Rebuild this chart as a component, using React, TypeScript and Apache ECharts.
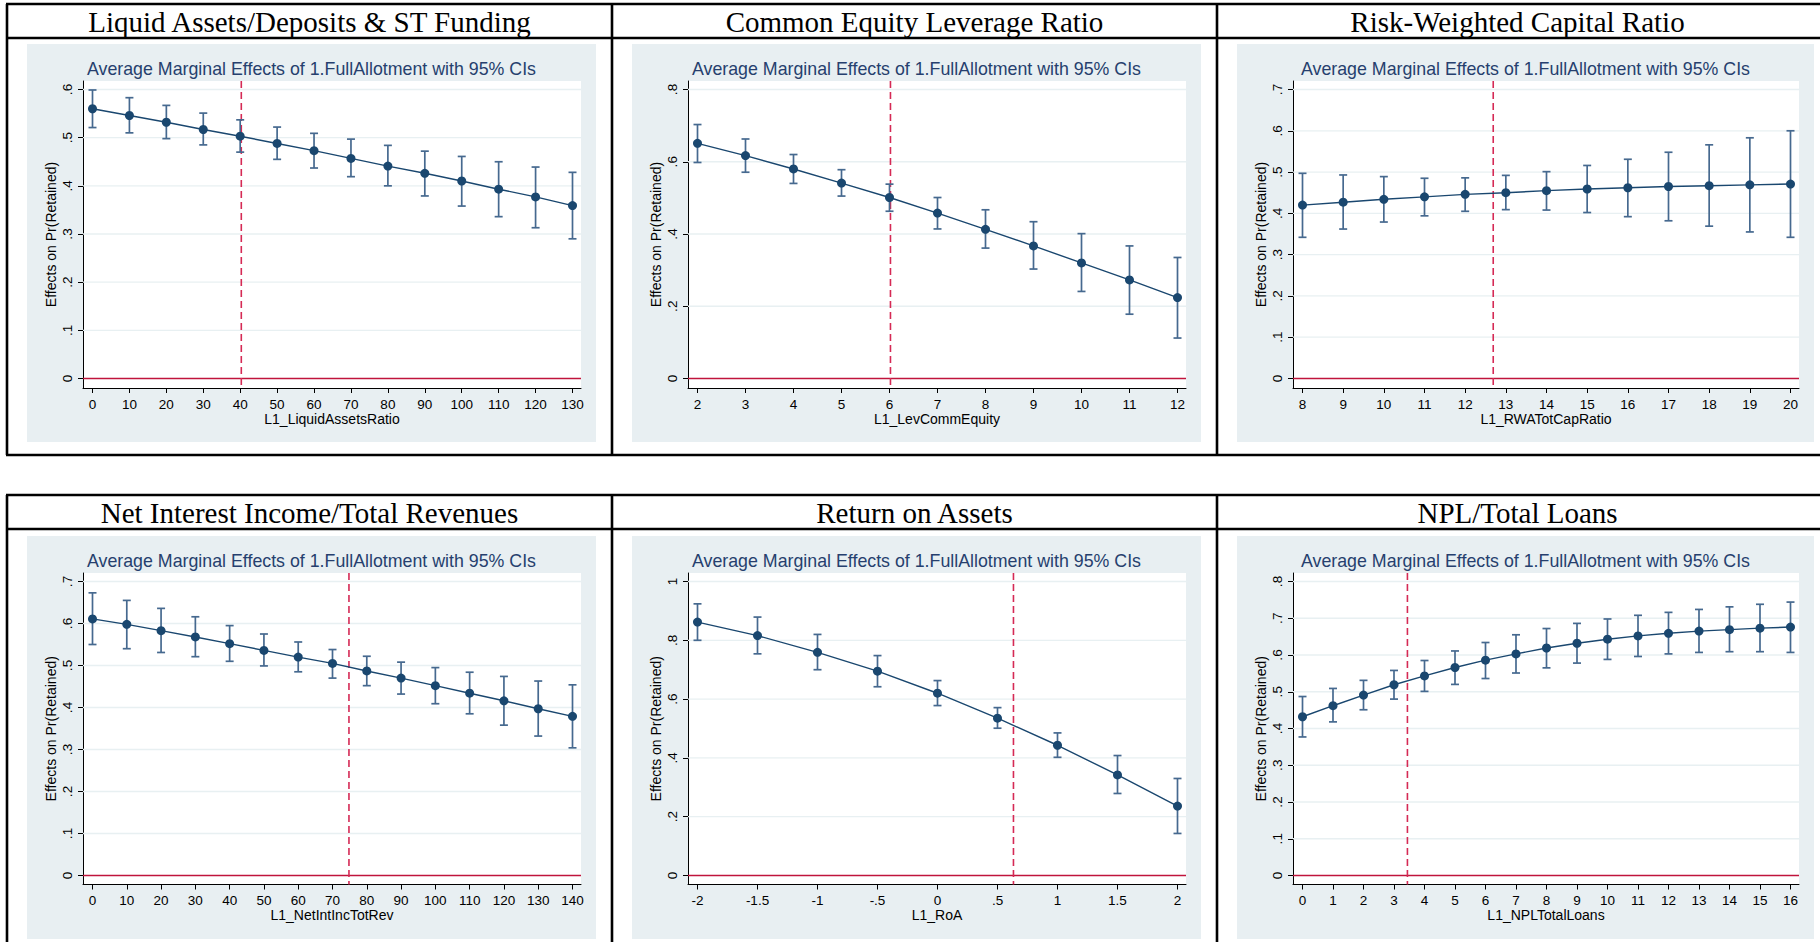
import React, { useEffect, useRef } from "react";
import * as echarts from "echarts";

// ---------------- DATA ----------------
const headerTitles = [
  "Liquid Assets/Deposits & ST Funding",
  "Common Equity Leverage Ratio",
  "Risk-Weighted Capital Ratio",
  "Net Interest Income/Total Revenues",
  "Return on Assets",
  "NPL/Total Loans",
];
const subTitle = "Average Marginal Effects of 1.FullAllotment with 95% CIs";
const yAxisTitle = "Effects on Pr(Retained)";
const xAxisTitles = [
  "L1_LiquidAssetsRatio",
  "L1_LevCommEquity",
  "L1_RWATotCapRatio",
  "L1_NetIntIncTotRev",
  "L1_RoA",
  "L1_NPLTotalLoans",
];

// Panel 1: Liquid assets
const liqX = [0, 10, 20, 30, 40, 50, 60, 70, 80, 90, 100, 110, 120, 130];
const liqY = [0.560, 0.546, 0.532, 0.517, 0.503, 0.488, 0.473, 0.457, 0.441, 0.426, 0.410, 0.393, 0.377, 0.359];
const liqHi = [0.599, 0.583, 0.567, 0.551, 0.537, 0.522, 0.509, 0.497, 0.484, 0.472, 0.461, 0.450, 0.439, 0.428];
const liqLo = [0.521, 0.510, 0.498, 0.485, 0.470, 0.455, 0.437, 0.419, 0.400, 0.379, 0.358, 0.336, 0.313, 0.290];
const liqYTicks = [0, 0.1, 0.2, 0.3, 0.4, 0.5, 0.6];
const liqThreshold = 40.3;

// Panel 2: Common equity leverage
const levX = [2, 3, 4, 5, 6, 7, 8, 9, 10, 11, 12];
const levY = [0.651, 0.617, 0.580, 0.541, 0.501, 0.458, 0.413, 0.367, 0.320, 0.273, 0.224];
const levHi = [0.703, 0.663, 0.620, 0.578, 0.538, 0.501, 0.467, 0.434, 0.401, 0.367, 0.335];
const levLo = [0.598, 0.571, 0.540, 0.505, 0.463, 0.414, 0.361, 0.303, 0.241, 0.178, 0.112];
const levYTicks = [0, 0.2, 0.4, 0.6, 0.8];
const levThreshold = 6.02;

// Panel 3: Risk-weighted capital ratio
const rwaX = [8, 9, 10, 11, 12, 13, 14, 15, 16, 17, 18, 19, 20];
const rwaY = [0.420, 0.427, 0.434, 0.440, 0.446, 0.450, 0.455, 0.459, 0.462, 0.465, 0.467, 0.469, 0.471];
const rwaHi = [0.497, 0.493, 0.489, 0.485, 0.486, 0.492, 0.501, 0.516, 0.531, 0.548, 0.566, 0.583, 0.600];
const rwaLo = [0.342, 0.362, 0.379, 0.394, 0.405, 0.409, 0.408, 0.402, 0.392, 0.382, 0.369, 0.355, 0.342];
const rwaYTicks = [0, 0.1, 0.2, 0.3, 0.4, 0.5, 0.6, 0.7];
const rwaThreshold = 12.69;

// Panel 4: Net interest income / total revenues
const niiX = [0, 10, 20, 30, 40, 50, 60, 70, 80, 90, 100, 110, 120, 130, 140];
const niiY = [0.611, 0.598, 0.583, 0.568, 0.552, 0.536, 0.520, 0.505, 0.487, 0.470, 0.452, 0.434, 0.416, 0.397, 0.379];
const niiHi = [0.673, 0.655, 0.636, 0.616, 0.595, 0.575, 0.556, 0.538, 0.522, 0.508, 0.495, 0.484, 0.474, 0.463, 0.454];
const niiLo = [0.550, 0.540, 0.531, 0.521, 0.510, 0.499, 0.485, 0.470, 0.452, 0.432, 0.409, 0.385, 0.358, 0.332, 0.304];
const niiYTicks = [0, 0.1, 0.2, 0.3, 0.4, 0.5, 0.6, 0.7];
const niiThreshold = 74.8;

// Panel 5: Return on assets
const roaX = [-2, -1.5, -1, -0.5, 0, 0.5, 1, 1.5, 2];
const roaY = [0.862, 0.816, 0.759, 0.695, 0.620, 0.535, 0.443, 0.342, 0.236];
const roaHi = [0.924, 0.879, 0.820, 0.748, 0.663, 0.571, 0.485, 0.408, 0.330];
const roaLo = [0.800, 0.754, 0.700, 0.642, 0.578, 0.501, 0.402, 0.279, 0.143];
const roaYTicks = [0, 0.2, 0.4, 0.6, 0.8, 1];
const roaThreshold = 0.633;

// Panel 6: NPL / total loans
const nplX = [0, 1, 2, 3, 4, 5, 6, 7, 8, 9, 10, 11, 12, 13, 14, 15, 16];
const nplY = [0.432, 0.462, 0.491, 0.519, 0.543, 0.566, 0.586, 0.603, 0.619, 0.632, 0.643, 0.652, 0.659, 0.665, 0.669, 0.673, 0.676];
const nplHi = [0.487, 0.509, 0.531, 0.558, 0.585, 0.611, 0.634, 0.655, 0.672, 0.686, 0.698, 0.708, 0.716, 0.724, 0.731, 0.738, 0.744];
const nplLo = [0.377, 0.418, 0.451, 0.480, 0.501, 0.520, 0.536, 0.551, 0.565, 0.578, 0.588, 0.596, 0.603, 0.607, 0.609, 0.609, 0.607];
const nplYTicks = [0, 0.1, 0.2, 0.3, 0.4, 0.5, 0.6, 0.7, 0.8];
const nplThreshold = 3.44;

const panelData = [
  { x: liqX, y: liqY, hi: liqHi, lo: liqLo, yTicks: liqYTicks, thr: liqThreshold },
  { x: levX, y: levY, hi: levHi, lo: levLo, yTicks: levYTicks, thr: levThreshold },
  { x: rwaX, y: rwaY, hi: rwaHi, lo: rwaLo, yTicks: rwaYTicks, thr: rwaThreshold },
  { x: niiX, y: niiY, hi: niiHi, lo: niiLo, yTicks: niiYTicks, thr: niiThreshold },
  { x: roaX, y: roaY, hi: roaHi, lo: roaLo, yTicks: roaYTicks, thr: roaThreshold },
  { x: nplX, y: nplY, hi: nplHi, lo: nplLo, yTicks: nplYTicks, thr: nplThreshold },
];

// ---------------- LAYOUT / STYLE ----------------
const COLS = [
  [27, 596],
  [632, 1201],
  [1237, 1814],
];
const COL_LINES = [7, 612, 1217];
const ROWS = [
  { tTop: 4, tLine: 38, tBot: 455, bgTop: 44, bgBot: 442, plotTop: 81, axisY: 388, topTickY: 89.5, zeroY: 378.5 },
  { tTop: 495, tLine: 529, tBot: 960, bgTop: 536, bgBot: 939, plotTop: 573, axisY: 884.5, topTickY: 581.5, zeroY: 875.5 },
];
const NAVY = "#1a476f";
const CI_COLOR = "#46698f";
const ZERO_COLOR = "#c0143c";
const DASH_COLOR = "#d52a55";
const GRID_COLOR = "#e8f0f2";
const PANEL_BG = "#e8eff2";
const SUB_COLOR = "#263f6e";
const SANS = "Liberation Sans";
const SERIF = "Liberation Serif";

const fmt = (v: number) => {
  const s = String(+v.toFixed(4));
  return s.replace(/^0\./, ".").replace(/^-0\./, "-.");
};

function buildOption() {
  const grids: any[] = [];
  const xAxes: any[] = [];
  const yAxes: any[] = [];
  const series: any[] = [];
  const graphics: any[] = [];

  // table frames and header titles
  ROWS.forEach((r, ri) => {
    const lw = 2.6;
    const ls = { stroke: "#000", lineWidth: lw };
    graphics.push({ type: "line", z: 50, shape: { x1: COL_LINES[0] - 1, y1: r.tTop, x2: 1820, y2: r.tTop }, style: ls });
    graphics.push({ type: "line", z: 50, shape: { x1: COL_LINES[0] - 1, y1: r.tLine, x2: 1820, y2: r.tLine }, style: ls });
    graphics.push({ type: "line", z: 50, shape: { x1: COL_LINES[0] - 1, y1: r.tBot, x2: 1820, y2: r.tBot }, style: ls });
    COL_LINES.forEach((cx) => {
      graphics.push({ type: "line", z: 50, shape: { x1: cx, y1: r.tTop, x2: cx, y2: r.tBot }, style: ls });
    });
    COLS.forEach((c, ci) => {
      const left = COL_LINES[ci];
      const right = ci < 2 ? COL_LINES[ci + 1] : 1818;
      graphics.push({
        type: "text",
        z: 50,
        x: (left + right) / 2,
        y: (r.tTop + r.tLine) / 2 + 1,
        style: {
          text: headerTitles[ri * 3 + ci],
          fill: "#000",
          fontFamily: SERIF,
          fontSize: 29,
          align: "center",
          verticalAlign: "middle",
        },
      });
      graphics.push({
        type: "rect",
        z: -100,
        shape: { x: c[0], y: r.bgTop, width: c[1] - c[0], height: r.bgBot - r.bgTop },
        style: { fill: PANEL_BG },
      });
      graphics.push({
        type: "text",
        z: 50,
        x: (c[0] + c[1]) / 2,
        y: r.bgTop + 25,
        style: {
          text: subTitle,
          fill: SUB_COLOR,
          fontFamily: SANS,
          fontSize: 17.8,
          align: "center",
          verticalAlign: "middle",
        },
      });
    });
  });

  panelData.forEach((p, i) => {
    const r = ROWS[Math.floor(i / 3)];
    const c = COLS[i % 3];
    const plotL = c[0] + 56;
    const plotR = c[1] - 15;
    const dataL = c[0] + 65.5;
    const dataR = c[1] - 23.5;
    const xFirst = p.x[0];
    const xLast = p.x[p.x.length - 1];
    const pxU = (dataR - dataL) / (xLast - xFirst);
    const xMin = xFirst - (dataL - plotL) / pxU;
    const xMax = xLast + (plotR - dataR) / pxU;
    const yTop = p.yTicks[p.yTicks.length - 1];
    const pyU = (r.zeroY - r.topTickY) / yTop;
    const yMin = -(r.axisY - r.zeroY) / pyU;
    const yMax = yTop + (r.topTickY - r.plotTop) / pyU;

    grids.push({
      left: plotL,
      top: r.plotTop,
      width: plotR - plotL,
      height: r.axisY - r.plotTop,
      show: true,
      backgroundColor: "#ffffff",
      borderWidth: 0,
      containLabel: false,
    });
    xAxes.push({
      gridIndex: i,
      type: "value",
      min: xMin,
      max: xMax,
      name: xAxisTitles[i],
      nameLocation: "middle",
      nameGap: 22,
      nameTextStyle: { color: "#000", fontFamily: SANS, fontSize: 14 },
      axisLine: { show: true, onZero: false, lineStyle: { color: "#000", width: 1 } },
      axisTick: { show: true, customValues: p.x, length: 5, lineStyle: { color: "#000", width: 1 } },
      axisLabel: {
        show: true,
        customValues: p.x,
        formatter: (v: number) => fmt(v),
        color: "#000",
        fontFamily: SANS,
        fontSize: 13.5,
        margin: 9,
        hideOverlap: false,
      },
      splitLine: { show: false },
    });
    yAxes.push({
      gridIndex: i,
      type: "value",
      min: yMin,
      max: yMax,
      name: yAxisTitle,
      nameLocation: "middle",
      nameGap: 25,
      nameRotate: 90,
      nameTextStyle: { color: "#000", fontFamily: SANS, fontSize: 14 },
      axisLine: { show: true, onZero: false, lineStyle: { color: "#000", width: 1 } },
      axisTick: { show: true, customValues: p.yTicks, length: 5, lineStyle: { color: "#000", width: 1 } },
      axisLabel: {
        show: true,
        customValues: p.yTicks,
        formatter: (v: number) => fmt(v),
        rotate: 90,
        color: "#000",
        fontFamily: SANS,
        fontSize: 13.5,
        margin: 9,
        hideOverlap: false,
      },
      splitLine: { show: false },
    });

    // grid lines + zero line
    series.push({
      type: "custom",
      xAxisIndex: i,
      yAxisIndex: i,
      z: 1,
      silent: true,
      data: p.yTicks.map((t) => [xFirst, t]),
      encode: { x: 0, y: 1 },
      renderItem: (params: any, api: any) => {
        const v = api.value(1);
        const cs = params.coordSys;
        const yy = api.coord([api.value(0), v])[1];
        const isZero = Math.abs(v) < 1e-9;
        return {
          type: "line",
          shape: { x1: cs.x, y1: yy, x2: cs.x + cs.width, y2: yy },
          style: { stroke: isZero ? ZERO_COLOR : GRID_COLOR, lineWidth: isZero ? 1.6 : 1.3 },
          z2: isZero ? 5 : 1,
        };
      },
    });
    // threshold dashed line
    series.push({
      type: "custom",
      xAxisIndex: i,
      yAxisIndex: i,
      z: 2,
      silent: true,
      data: [[p.thr, 0]],
      encode: { x: 0, y: 1 },
      renderItem: (params: any, api: any) => {
        const cs = params.coordSys;
        const xx = api.coord([api.value(0), api.value(1)])[0];
        return {
          type: "line",
          shape: { x1: xx, y1: cs.y, x2: xx, y2: cs.y + cs.height },
          style: { stroke: DASH_COLOR, lineWidth: 1.6, lineDash: [7, 4] },
        };
      },
    });
    // CI bars
    series.push({
      type: "custom",
      xAxisIndex: i,
      yAxisIndex: i,
      z: 3,
      silent: true,
      data: p.x.map((xv, k) => [xv, p.lo[k], p.hi[k]]),
      encode: { x: 0, y: [1, 2] },
      renderItem: (params: any, api: any) => {
        const xv = api.value(0);
        const a = api.coord([xv, api.value(2)]);
        const b = api.coord([xv, api.value(1)]);
        const cw = 4;
        const st = { stroke: CI_COLOR, lineWidth: 1.7 };
        return {
          type: "group",
          children: [
            { type: "line", shape: { x1: a[0], y1: a[1], x2: b[0], y2: b[1] }, style: st },
            { type: "line", shape: { x1: a[0] - cw, y1: a[1], x2: a[0] + cw, y2: a[1] }, style: st },
            { type: "line", shape: { x1: b[0] - cw, y1: b[1], x2: b[0] + cw, y2: b[1] }, style: st },
          ],
        };
      },
    });
    // estimate line + markers
    series.push({
      type: "line",
      xAxisIndex: i,
      yAxisIndex: i,
      z: 4,
      silent: true,
      data: p.x.map((xv, k) => [xv, p.y[k]]),
      symbol: "circle",
      symbolSize: 9,
      showSymbol: true,
      itemStyle: { color: NAVY, borderWidth: 0 },
      lineStyle: { color: NAVY, width: 1.4 },
    });
  });

  return {
    animation: false,
    backgroundColor: "#ffffff",
    grid: grids,
    xAxis: xAxes,
    yAxis: yAxes,
    series,
    graphic: { elements: graphics },
  };
}

export default function App() {
  const ref = useRef<HTMLDivElement | null>(null);
  useEffect(() => {
    document.body.style.margin = "0";
    if (!ref.current) return;
    const chart = echarts.init(ref.current, undefined, { renderer: "svg" });
    chart.setOption(buildOption() as any);
    return () => {
      chart.dispose();
    };
  }, []);
  return (
    <div
      ref={ref}
      style={{ position: "absolute", left: 0, top: 0, width: 1820, height: 942 }}
    />
  );
}
